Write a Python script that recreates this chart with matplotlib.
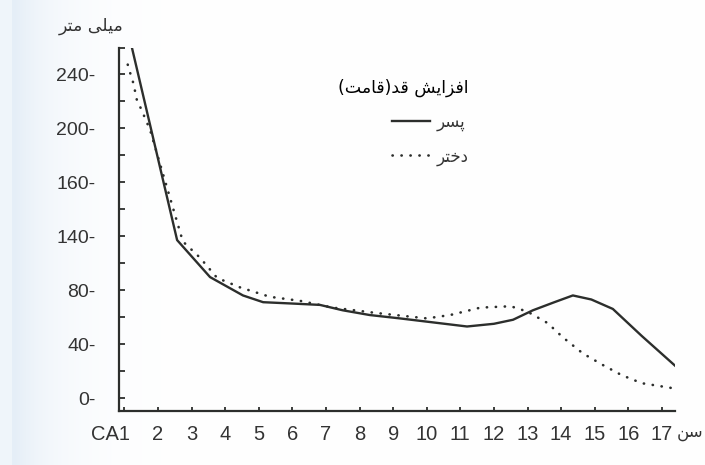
import numpy as np
import matplotlib
matplotlib.use("Agg")
import matplotlib.pyplot as plt

# height velocity (mm per year) against age
boys_age = [1.23, 2.57, 3.55, 4.53, 5.13, 6.0, 6.82, 7.5, 8.3, 9.2, 10.2, 11.2,
            12.0, 12.57, 13.16, 13.8, 14.35, 14.9, 15.54, 16.4, 17.39]
boys_mm = [259, 117, 89.6, 76, 71, 70, 69, 65, 61.5, 59, 56, 53,
           55, 58, 65, 71, 76, 73, 66, 46, 24]

girls_age = [1.10, 1.17, 1.27, 1.37, 1.52, 1.62, 1.76, 2.74, 3.25, 3.76, 4.44,
             5.33, 6.23, 7.2, 8.5, 10.0, 10.7, 11.6, 12.5, 13.0, 13.6, 14.05,
             14.65, 15.24, 15.8, 16.4, 17.3]
girls_mm = [247, 241, 233, 221, 213, 207, 199, 116, 104, 89, 82,
            75, 72, 67, 63, 59, 61.5, 67, 68, 64, 55.5, 45,
            33, 24.5, 17, 11, 7.4]

x_ticks = list(range(1, 18))
x_labels = [""] + [str(i) for i in range(2, 18)]
y_ticks = [0, 40, 80, 120, 160, 200, 240]
y_labels = ["0-", "40-", "80-", "140-", "160-", "200-", "240-"]
y_minor = [20, 60, 100, 140, 180, 220, 259]

# persian strings written in presentation forms, visual order (no bidi in mpl)
txt_unit = "\ufeae\ufe98\ufee3 \ufef0\ufee0\ufef4\ufee3"          # mili metr
txt_title = "(\ufe96\ufee3\ufe8e\ufed7)\ufeaa\ufed7 \ufeb6\ufef3\ufe8d\ufeb0\ufed3\ufe8d"
txt_boy = "\ufeae\ufeb4\ufb58"                                     # pesar
txt_girl = "\ufeae\ufe98\ufea7\ufea9"                              # dokhtar
txt_age = "\ufee6\ufeb3"                                           # sen

ink = "#2c2e2c"
W, H = 705, 465

fig = plt.figure(figsize=(W / 100, H / 100), dpi=100)

# faint bluish tint of the scanned page on the left
bg = fig.add_axes([0, 0, 1, 1], zorder=-10)
bg.axis("off")
xx = np.arange(W)
fade = np.clip(np.exp(-(xx - 15) / 45.0), 0, 1)
fade[xx < 12] *= 0.6
img = np.ones((H, W, 3))
img[:, :, 0] -= 0.10 * fade
img[:, :, 1] -= 0.065 * fade
img[:, :, 2] -= 0.03 * fade
bg.imshow(img, aspect="auto", extent=[0, 1, 0, 1], interpolation="bilinear")
bg.set_xlim(0, 1)
bg.set_ylim(0, 1)

ax = fig.add_axes([119 / W, 1 - 411 / H, (675 - 119) / W, (411 - 48) / H])
ax.set_facecolor("none")

l_boy, = ax.plot(boys_age, boys_mm, color=ink, lw=1.7, solid_joinstyle="round")
l_girl, = ax.plot(girls_age, girls_mm, color=ink, lw=1.9,
                  linestyle=(0, (0.1, 3.3)), dash_capstyle="round")

ax.set_xlim(0.84, 17.39)
ax.set_ylim(-9.6, 259.3)

for s in ["top", "right"]:
    ax.spines[s].set_visible(False)
for s in ["left", "bottom"]:
    ax.spines[s].set_color(ink)
    ax.spines[s].set_linewidth(1.6)

ax.set_xticks(x_ticks, x_labels, fontsize=14.5, family="Liberation Sans", color="#333333")
ax.set_yticks(y_ticks, y_labels, fontsize=14, family="Liberation Sans", color="#333333")
ax.set_yticks(y_minor, minor=True)
ax.tick_params(axis="x", direction="in", length=3, width=1.3, pad=10, color=ink)
ax.tick_params(axis="y", which="both", direction="in", length=4, width=1.3, pad=17, color=ink)

ax.annotate("CA1", xy=(1.17, 0), xycoords=("data", "axes fraction"),
            xytext=(0, -10), textcoords="offset points", ha="right", va="top",
            fontsize=14.5, family="Liberation Sans", color="#333333")

fig.text(124 / W, 1 - 26 / H, txt_unit, ha="right", va="center",
         family="DejaVu Sans", fontsize=12.5, color="#333333")
fig.text(703 / W, 1 - 432 / H, txt_age, ha="right", va="center",
         family="DejaVu Sans", fontsize=12, color="#333333")

ax.legend(handles=[l_boy, l_girl], labels=[txt_boy, txt_girl], title=txt_title,
          loc="upper left", bbox_to_anchor=(338 / W, 1 - 79 / H),
          bbox_transform=fig.transFigure, frameon=False,
          prop={"family": "DejaVu Sans", "size": 12},
          title_fontproperties={"family": "DejaVu Sans", "size": 12.5},
          handlelength=2.3, handletextpad=0.4, labelspacing=0.95,
          alignment="right", borderpad=0, borderaxespad=0, labelcolor="#333333")

fig.savefig("out.png", dpi=100)
